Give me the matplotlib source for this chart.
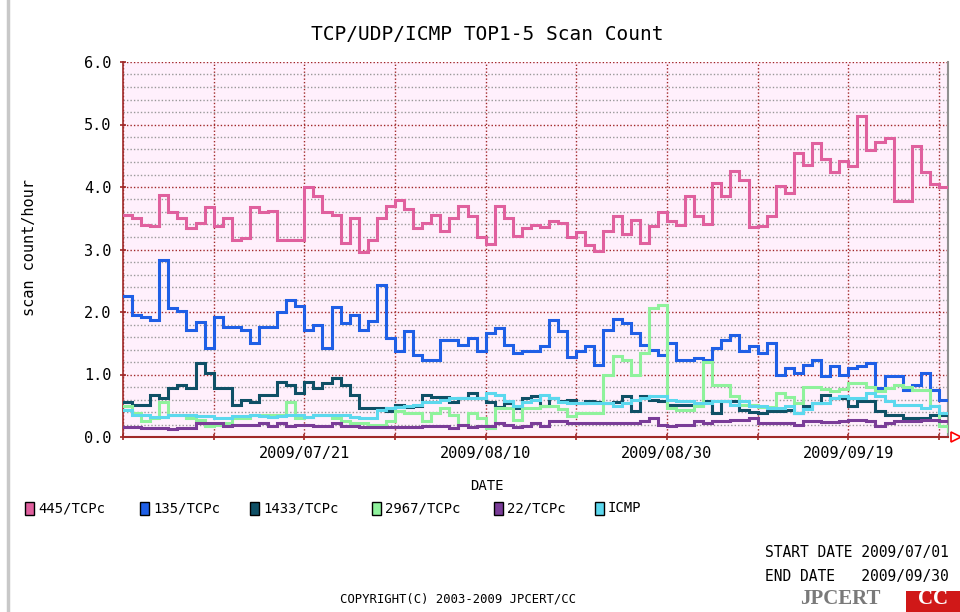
import numpy as np
import pandas as pd
import matplotlib
matplotlib.use("Agg")
import matplotlib.pyplot as plt
from matplotlib.patches import Rectangle
from matplotlib.lines import Line2D

# --- данные (по одному значению на день, 2009/07/01 .. 2009/09/30) ---
dates = pd.date_range("2009-07-01", "2009-09-30", freq="D")

p445 = [3.55, 3.5, 3.4, 3.37, 3.87, 3.6, 3.5, 3.35, 3.43, 3.68, 3.38, 3.5, 3.15, 3.18, 3.68,
        3.6, 3.62, 3.15, 3.15, 3.15, 4.0, 3.85, 3.6, 3.55, 3.1, 3.5, 2.96, 3.15, 3.5, 3.69, 3.79,
        3.65, 3.34, 3.43, 3.56, 3.3, 3.5, 3.7, 3.53, 3.2, 3.09, 3.69, 3.5, 3.21, 3.34, 3.39,
        3.36, 3.45, 3.43, 3.2, 3.28, 3.07, 2.98, 3.3, 3.53, 3.25, 3.47, 3.11, 3.38, 3.6, 3.45, 3.39,
        3.85, 3.53, 3.41, 4.07, 3.85, 4.26, 4.12, 3.36, 3.37, 3.53, 4.02, 3.9, 4.55, 4.35, 4.7,
        4.45, 4.24, 4.42, 4.33, 5.13, 4.6, 4.72, 4.78, 3.78, 3.78, 4.65, 4.24, 4.05, 4.0, 4.0]

p135 = [2.25, 1.95, 1.92, 1.87, 2.84, 2.06, 2.02, 1.71, 1.84, 1.42, 1.92, 1.76, 1.76, 1.71, 1.5,
        1.76, 1.76, 2.0, 2.19, 2.1, 1.71, 1.79, 1.42, 2.08, 1.82, 1.96, 1.71, 1.86, 2.43, 1.58, 1.37,
        1.69, 1.31, 1.23, 1.23, 1.55, 1.55, 1.47, 1.58, 1.38, 1.66, 1.74, 1.47, 1.34, 1.37, 1.37,
        1.45, 1.87, 1.69, 1.28, 1.38, 1.45, 1.15, 1.71, 1.89, 1.82, 1.66, 1.47, 1.39, 1.31, 1.51, 1.23,
        1.24, 1.27, 1.24, 1.42, 1.55, 1.64, 1.38, 1.46, 1.34, 1.5, 0.99, 1.1, 1.03, 1.15, 1.24,
        0.98, 1.13, 0.99, 1.1, 1.13, 1.19, 0.78, 0.97, 0.97, 0.76, 0.83, 1.02, 0.75, 0.59, 0.59]

p1433 = [0.56, 0.52, 0.52, 0.68, 0.62, 0.78, 0.84, 0.79, 1.18, 1.02, 0.78, 0.78, 0.51, 0.6, 0.56,
         0.68, 0.68, 0.88, 0.83, 0.71, 0.88, 0.78, 0.86, 0.95, 0.83, 0.67, 0.46, 0.46, 0.47, 0.41, 0.51,
         0.48, 0.5, 0.67, 0.64, 0.64, 0.56, 0.63, 0.7, 0.63, 0.56, 0.48, 0.54, 0.46, 0.63, 0.65,
         0.5, 0.62, 0.57, 0.6, 0.54, 0.58, 0.56, 0.54, 0.56, 0.65, 0.41, 0.65, 0.59, 0.57, 0.51, 0.51,
         0.51, 0.51, 0.58, 0.38, 0.58, 0.57, 0.43, 0.4, 0.38, 0.41, 0.41, 0.43, 0.38, 0.5, 0.54,
         0.67, 0.62, 0.62, 0.5, 0.58, 0.58, 0.41, 0.35, 0.35, 0.3, 0.3, 0.3, 0.36, 0.35, 0.35]

p2967 = [0.49, 0.38, 0.25, 0.3, 0.56, 0.35, 0.35, 0.3, 0.27, 0.18, 0.2, 0.22, 0.3, 0.3, 0.35,
         0.35, 0.35, 0.35, 0.56, 0.3, 0.32, 0.35, 0.35, 0.3, 0.25, 0.22, 0.22, 0.19, 0.19, 0.25, 0.41,
         0.38, 0.38, 0.25, 0.38, 0.46, 0.35, 0.19, 0.38, 0.3, 0.15, 0.46, 0.46, 0.27, 0.46, 0.46,
         0.5, 0.5, 0.45, 0.33, 0.38, 0.38, 0.38, 0.99, 1.29, 1.23, 0.99, 1.34, 2.06, 2.11, 0.46, 0.43,
         0.43, 0.5, 1.2, 0.83, 0.83, 0.65, 0.52, 0.52, 0.48, 0.48, 0.7, 0.64, 0.55, 0.8, 0.8,
         0.77, 0.73, 0.77, 0.87, 0.87, 0.8, 0.73, 0.79, 0.83, 0.8, 0.75, 0.75, 0.5, 0.17, 0.1]

p22 = [0.16, 0.16, 0.15, 0.15, 0.15, 0.13, 0.15, 0.15, 0.22, 0.22, 0.22, 0.18, 0.19, 0.19, 0.19,
       0.22, 0.18, 0.22, 0.18, 0.2, 0.2, 0.18, 0.18, 0.22, 0.18, 0.18, 0.16, 0.16, 0.16, 0.16, 0.16,
       0.16, 0.16, 0.18, 0.18, 0.18, 0.15, 0.19, 0.16, 0.18, 0.18, 0.22, 0.19, 0.16, 0.18, 0.22,
       0.18, 0.25, 0.25, 0.22, 0.22, 0.22, 0.22, 0.22, 0.22, 0.22, 0.22, 0.25, 0.3, 0.19, 0.17, 0.19,
       0.19, 0.25, 0.22, 0.25, 0.25, 0.27, 0.27, 0.31, 0.22, 0.22, 0.22, 0.22, 0.19, 0.25, 0.25,
       0.24, 0.24, 0.25, 0.27, 0.27, 0.25, 0.17, 0.22, 0.25, 0.25, 0.25, 0.27, 0.27, 0.25, 0.25]

icmp = [0.43, 0.36, 0.35, 0.32, 0.32, 0.36, 0.36, 0.36, 0.34, 0.34, 0.3, 0.3, 0.34, 0.34, 0.36,
        0.34, 0.32, 0.34, 0.36, 0.36, 0.32, 0.36, 0.36, 0.36, 0.36, 0.32, 0.3, 0.3, 0.43, 0.46, 0.48,
        0.5, 0.52, 0.56, 0.56, 0.6, 0.62, 0.62, 0.62, 0.62, 0.7, 0.68, 0.58, 0.5, 0.56, 0.6,
        0.67, 0.62, 0.56, 0.54, 0.55, 0.55, 0.54, 0.54, 0.49, 0.55, 0.59, 0.62, 0.65, 0.65, 0.59, 0.57,
        0.57, 0.54, 0.55, 0.57, 0.57, 0.51, 0.57, 0.49, 0.49, 0.46, 0.46, 0.49, 0.38, 0.45, 0.54,
        0.54, 0.62, 0.65, 0.63, 0.63, 0.7, 0.65, 0.57, 0.52, 0.51, 0.51, 0.46, 0.5, 0.38, 0.38]

series_names = ["445/TCPc", "135/TCPc", "1433/TCPc", "2967/TCPc", "22/TCPc", "ICMP"]
series_values = [p445, p135, p1433, p2967, p22, icmp]
series_colors = ["#e0609e", "#1f5fe6", "#0f5066", "#8ff29c", "#7a3c98", "#5cd8ee"]

y_ticks = [0.0, 1.0, 2.0, 3.0, 4.0, 5.0, 6.0]
x_label_dates = ["2009/07/21", "2009/08/10", "2009/08/30", "2009/09/19"]

MONO = "DejaVu Sans Mono"
GRID_RED = "#a02828"

fig = plt.figure(figsize=(9.6, 6.12), dpi=100)
fig.patch.set_facecolor("white")
ax = fig.add_axes([123 / 960, 1 - 437 / 612, (948 - 123) / 960, (437 - 62) / 612])
ax.set_facecolor("#fff0fc")

# линии-ступеньки
for name, vals, col in zip(series_names, series_values, series_colors):
    ax.step(dates, vals, where="post", color=col, lw=2.2, solid_joinstyle="miter", zorder=3)

ax.set_xlim(dates[0], dates[-1])
ax.set_ylim(0, 6.0)

# сетка: вертикальные линии каждые 10 дней
grid_dates = dates[::10]
for d in grid_dates:
    ax.axvline(d, color=GRID_RED, lw=1.0, ls=(0, (1, 1.5)), zorder=1)
for v in np.arange(0.2, 6.0, 0.2):
    if abs(v - round(v)) < 1e-6:
        continue
    ax.axhline(v, color="#999999", lw=1.0, ls=(0, (1, 1.5)), zorder=1)
for v in y_ticks[1:]:
    ax.axhline(v, color=GRID_RED, lw=1.0, ls=(0, (1, 1.5)), zorder=1)

# оси
ax.set_yticks(y_ticks)
ax.set_yticklabels([f"{v:.1f}" for v in y_ticks], family=MONO, fontsize=11)
ax.set_xticks(grid_dates)
lbls = []
for d in grid_dates:
    s = d.strftime("%Y/%m/%d")
    lbls.append(s if s in x_label_dates else "")
ax.set_xticklabels(lbls, family=MONO, fontsize=11)
ax.tick_params(axis="both", colors=GRID_RED, labelcolor="black", length=5, width=1.2,
               direction="inout")
ax.tick_params(axis="x", pad=4)
ax.tick_params(axis="y", pad=6)
ax.spines["top"].set_visible(False)
ax.spines["left"].set_color(GRID_RED)
ax.spines["bottom"].set_color(GRID_RED)
ax.spines["left"].set_linewidth(1.2)
ax.spines["bottom"].set_linewidth(1.5)
ax.spines["right"].set_color("#909090")
ax.spines["right"].set_linewidth(1.5)

# маленькая красная стрелка справа внизу
ax.plot([1.01], [0], marker=">", ms=7, mfc="none", mec="red", mew=1.2,
        transform=ax.transAxes, clip_on=False)

# тексты
fig.text(487 / 960, 1 - 34 / 612, "TCP/UDP/ICMP TOP1-5 Scan Count", ha="center", va="center",
         family=MONO, fontsize=14)
fig.text(30 / 960, 1 - 248 / 612, "scan count/hour", rotation=90, ha="center", va="center",
         family=MONO, fontsize=11)
fig.text(487 / 960, 1 - 486 / 612, "DATE", ha="center", va="center", family=MONO, fontsize=10)

# легенда вручную
leg_x = [25, 140, 250, 372, 494, 595]
for x0, name, col in zip(leg_x, series_names, series_colors):
    fig.add_artist(Rectangle((x0 / 960, 1 - 515 / 612), 9 / 960, 13 / 612,
                             facecolor=col, edgecolor="black", lw=1.0,
                             transform=fig.transFigure))
    fig.text((x0 + 13) / 960, 1 - 508 / 612, name, ha="left", va="center",
             family=MONO, fontsize=10)

fig.text(765 / 960, 1 - 553 / 612, "START DATE 2009/07/01", ha="left", va="center",
         family=MONO, fontsize=10.5)
fig.text(765 / 960, 1 - 577 / 612, "END DATE   2009/09/30", ha="left", va="center",
         family=MONO, fontsize=10.5)
fig.text(458 / 960, 1 - 599 / 612, "COPYRIGHT(C) 2003-2009 JPCERT/CC", ha="center", va="center",
         family=MONO, fontsize=8.8)

# логотип
fig.add_artist(Rectangle((906 / 960, 0), 54 / 960, 21 / 612, facecolor="#d01818",
                         edgecolor="none", transform=fig.transFigure))
fig.text(800 / 960, 3 / 612, "JPCERT", ha="left", va="bottom", family="Liberation Serif",
         fontweight="bold", fontsize=15, color="#7a7a7a")
fig.text(933 / 960, 3 / 612, "CC", ha="center", va="bottom", family="Liberation Serif",
         fontweight="bold", fontsize=15, color="white")

# серая рамка слева
fig.add_artist(Line2D([8 / 960, 8 / 960], [0, 1], color="#c8c8c8", lw=2.5,
                      transform=fig.transFigure))

fig.savefig("out.png", dpi=100)
